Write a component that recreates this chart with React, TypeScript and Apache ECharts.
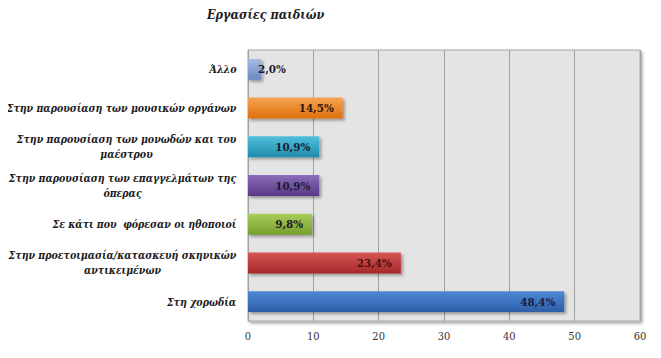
import React, { useEffect, useRef } from "react";
import * as echarts from "echarts";

const categories = [
  "Στη χορωδία",
  "Στην προετοιμασία/κατασκευή σκηνικών\nαντικειμένων",
  "Σε κάτι που  φόρεσαν οι ηθοποιοί",
  "Στην παρουσίαση των επαγγελμάτων της\nόπερας",
  "Στην παρουσίαση των μονωδών και του\nμαέστρου",
  "Στην παρουσίαση των μουσικών οργάνων",
  "Άλλο",
];
const values = [48.4, 23.4, 9.8, 10.9, 10.9, 14.5, 2.0];
const colorTops = ["#4f88d6", "#d85656", "#a9cd5a", "#8c6dba", "#52c0dc", "#f6a352", "#a6bbe2"];
const colorBottoms = ["#2d5ea6", "#a42828", "#779d2e", "#573886", "#1e8cab", "#de700c", "#6a88c2"];
const labelColors = ["#1a1f3d", "#4a1212", "#1a1a1a", "#1a1a33", "#1a1a33", "#2a1a10", "#1a1a33"];
const xTicks = { min: 0, max: 60, interval: 10 };
const title = "Εργασίες παιδιών";

const SERIF = "'DejaVu Serif Condensed', 'DejaVu Serif', serif";
const LABEL_SIZE = 10.5;
const LABEL_FONT = "italic bold " + LABEL_SIZE + "px " + SERIF;

function measure(text: string): number {
  const c = document.createElement("canvas");
  const ctx = c.getContext("2d");
  if (!ctx) return text.length * 6;
  ctx.font = LABEL_FONT;
  return ctx.measureText(text).width;
}

export default function App() {
  const ref = useRef<HTMLDivElement>(null);
  useEffect(() => {
    if (!ref.current) return;
    const chart = echarts.init(ref.current, undefined, { renderer: "svg" });

    const rich: Record<string, any> = {};
    categories.forEach((cat, i) => {
      const lines = cat.split("\n");
      const w = Math.ceil(Math.max(...lines.map(measure))) + 1;
      rich["c" + i] = {
        width: w,
        align: "center",
        fontFamily: SERIF,
        fontStyle: "italic",
        fontWeight: "bold",
        fontSize: LABEL_SIZE,
        color: "#1a1a1a",
        lineHeight: 15,
      };
    });

    const option: any = {
      animation: false,
      backgroundColor: "#ffffff",
      title: {
        text: title,
        left: 194,
        top: 0,
        padding: [0, 5, 5, 5],
        textStyle: {
          fontFamily: SERIF,
          fontStyle: "italic",
          fontWeight: "bold",
          fontSize: 12.5,
          color: "#1a1a1a",
        },
      },
      grid: {
        left: 240,
        right: 13,
        top: 42,
        bottom: 29,
        outerBoundsMode: "none",
        containLabel: false,
        show: true,
        backgroundColor: "#e4e4e4",
        borderColor: "#a8a8a8",
        borderWidth: 1,
        shadowColor: "rgba(0,0,0,0.35)",
        shadowBlur: 3,
        shadowOffsetX: 2,
        shadowOffsetY: 2,
      },
      xAxis: {
        type: "value",
        min: xTicks.min,
        max: xTicks.max,
        interval: xTicks.interval,
        axisLine: { show: false },
        axisTick: { show: false },
        splitLine: { show: true, lineStyle: { color: "#a0a0a0", width: 1 } },
        axisLabel: {
          margin: 10,
          fontFamily: SERIF,
          fontSize: 11,
          color: "#333333",
        },
      },
      yAxis: {
        type: "category",
        data: categories,
        axisLine: { show: true, lineStyle: { color: "#a0a0a0" } },
        axisTick: { show: false },
        axisLabel: {
          margin: 11,
          align: "right",
          formatter: (v: string) => {
            const i = categories.indexOf(v);
            return v
              .split("\n")
              .map((l) => "{c" + i + "|" + l + "}")
              .join("\n");
          },
          rich,
        },
      },
      series: [
        {
          type: "bar",
          barCategoryGap: "46%",
          data: values.map((v, i) => ({
            value: v,
            itemStyle: {
              color: new echarts.graphic.LinearGradient(0, 0, 0, 1, [
                { offset: 0, color: colorTops[i] },
                { offset: 1, color: colorBottoms[i] },
              ]),
              shadowColor: "rgba(0,0,0,0.35)",
              shadowBlur: 3,
              shadowOffsetX: 2,
              shadowOffsetY: 2,
            },
            label: {
              color: labelColors[i],
              position: v < 5 ? "right" : "insideRight",
              distance: v < 5 ? -3 : 9,
            },
          })),
          label: {
            show: true,
            fontFamily: SERIF,
            fontWeight: "bold",
            fontSize: 11.5,
            formatter: (p: any) => p.value.toFixed(1).replace(".", ",") + "%",
          },
        },
      ],
    };
    chart.setOption(option);
    return () => chart.dispose();
  }, []);
  return <div ref={ref} style={{ width: 645, height: 342 }} />;
}
